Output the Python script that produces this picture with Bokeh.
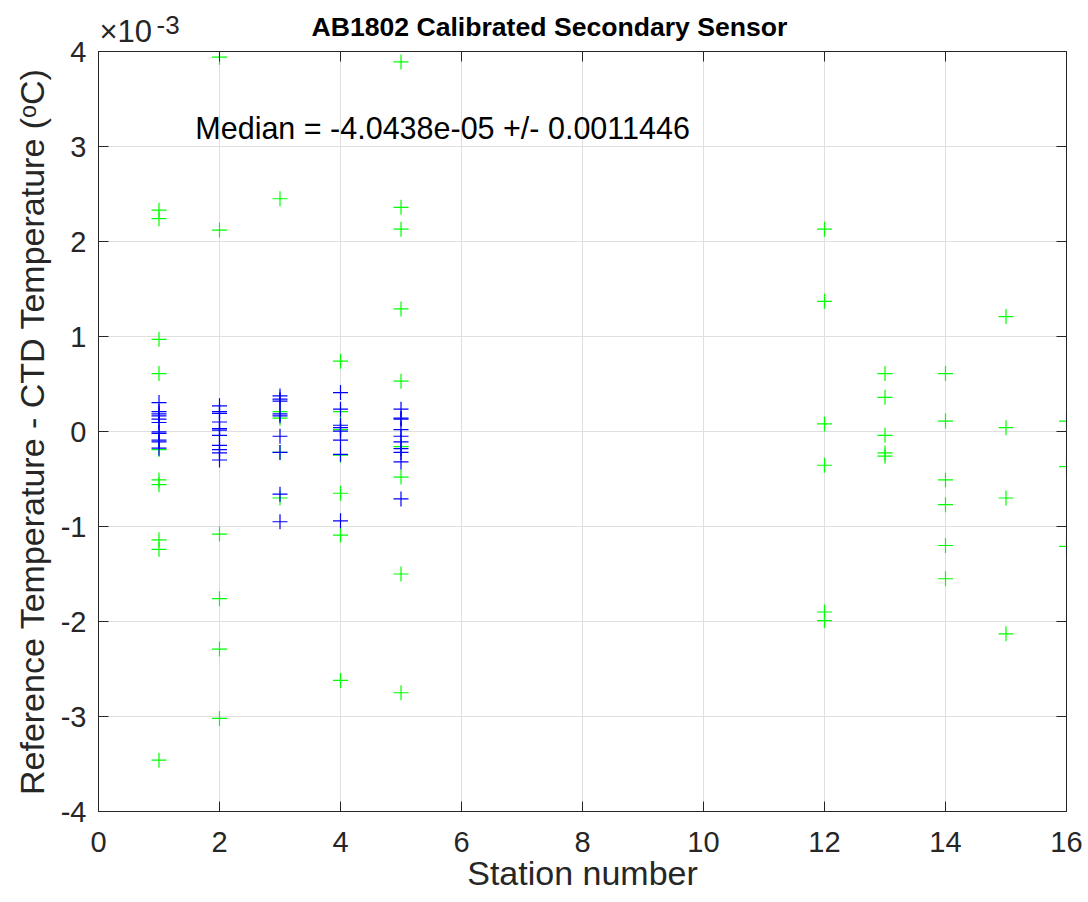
from bokeh.plotting import figure
from bokeh.models import Range1d, FixedTicker, LinearAxis, Label, Title, CustomJSTickFormatter
from bokeh.embed import file_html
from bokeh.resources import INLINE

# ---- data (temperature differences in units of 1e-3 degC) ----
green_stations = [1, 2, 3, 4, 5, 12, 13, 14, 15, 16]
green_values = [
    [2.33, 2.24, 0.97, 0.61, -0.19, -0.51, -0.56, -1.14, -1.24, -3.46],
    [3.94, 2.12, -1.08, -1.76, -2.29, -3.02],
    [2.45, 0.21, 0.14, -0.22, -0.70],
    [0.74, 0.21, 0.02, -0.25, -0.65, -1.09, -2.62],
    [3.89, 2.36, 2.13, 1.29, 0.53, -0.16, -0.48, -1.50, -2.75],
    [2.13, 1.37, 0.08, -0.355, -1.90, -1.99],
    [0.61, 0.36, -0.04, -0.225, -0.26],
    [0.61, 0.11, -0.51, -0.77, -1.20, -1.55],
    [1.21, 0.04, -0.70, -2.13],
    [0.11, -0.37, -1.21],
]
blue_stations = [1, 2, 3, 4, 5]
blue_values = [
    [0.305, 0.21, 0.185, 0.165, 0.13, 0.095, -0.004, -0.02, -0.09, -0.11, -0.175],
    [0.27, 0.21, 0.19, 0.10, 0.03, 0.015, -0.04, -0.145, -0.19, -0.225, -0.30],
    [0.375, 0.34, 0.32, 0.185, 0.165, -0.05, -0.22, -0.66, -0.95],
    [0.41, 0.235, 0.066, 0.04, 0.003, -0.09, -0.24, -0.94],
    [0.235, 0.14, 0.13, 0.02, -0.05, -0.11, -0.18, -0.22, -0.32, -0.71],
]
x_ticks = [0, 2, 4, 6, 8, 10, 12, 14, 16]
y_ticks = [-4, -3, -2, -1, 0, 1, 2, 3, 4]
y_tick_labels = ["-4", "-3", "-2", "-1", "0", "1", "2", "3", "4"]
title_text = "AB1802 Calibrated Secondary Sensor"
median_text = "Median = -4.0438e-05 +/- 0.0011446"
x_label = "Station number"
y_label = "Reference Temperature - CTD Temperature (ᵒC)"
exp_base = "×10"
exp_power = "-3"

gx = [s for s, vals in zip(green_stations, green_values) for _ in vals]
gy = [v for vals in green_values for v in vals]
bx = [s for s, vals in zip(blue_stations, blue_values) for _ in vals]
by = [v for vals in blue_values for v in vals]

FONT = "Liberation Sans"
AX = "#262626"

p = figure(width=1088, height=902, x_range=Range1d(0, 16), y_range=Range1d(-4, 4),
           output_backend="svg", toolbar_location=None,
           min_border_left=98, min_border_right=22, min_border_top=51, min_border_bottom=91)
p.background_fill_color = "white"
p.border_fill_color = "white"
p.outline_line_color = AX
p.outline_line_width = 1
xax = p.xaxis[0]
yax = p.yaxis[0]

blank = CustomJSTickFormatter(code="return ''")

# mirrored ticks on top (box on), closest to the frame
p.add_layout(LinearAxis(ticker=FixedTicker(ticks=x_ticks), formatter=blank,
                        axis_line_color=AX, major_tick_line_color=AX,
                        major_tick_in=10, major_tick_out=0, minor_tick_line_color=None,
                        major_label_standoff=0), "above")

# exponent label of the y axis, stacked just above the frame
p.add_layout(Title(text=exp_base, align="left", offset=1, standoff=5,
                   text_font=FONT, text_font_size="31px", text_font_style="normal",
                   text_color=AX), "above")
p.add_layout(Title(text=exp_power, align="left", offset=58, standoff=-48,
                   text_font=FONT, text_font_size="26px", text_font_style="normal",
                   text_color=AX), "above")

p.title.text = title_text
p.title.text_font = FONT
p.title.text_font_size = "26.6px"
p.title.text_font_style = "bold"
p.title.text_color = "black"
p.title.align = "left"
p.title.offset = 213
p.title.standoff = -64

xax.ticker = FixedTicker(ticks=x_ticks)
yax.ticker = FixedTicker(ticks=y_ticks)
yax.major_label_overrides = dict(zip(y_ticks, y_tick_labels))
yax.axis_label = y_label
for ax in (xax, yax):
    ax.axis_line_color = AX
    ax.major_tick_line_color = AX
    ax.major_tick_in = 10
    ax.major_tick_out = 0
    ax.minor_tick_line_color = None
    ax.major_label_text_font = FONT
    ax.major_label_text_font_size = "29px"
    ax.major_label_text_color = AX
    ax.axis_label_text_font = FONT
    ax.axis_label_text_font_size = "34px"
    ax.axis_label_text_font_style = "normal"
    ax.axis_label_text_color = AX
xax.major_label_standoff = 20
yax.major_label_standoff = 12
yax.axis_label_standoff = 7

# x-axis label as a title below the axis (finer vertical control)
p.add_layout(Title(text=x_label, align="center", vertical_align="top", standoff=-2,
                   text_font=FONT, text_font_size="34px", text_font_style="normal",
                   text_color=AX), "below")

for grid in (p.xgrid, p.ygrid):
    grid.grid_line_color = "#dfdfdf"
    grid.grid_line_width = 1

# mirrored ticks on the right (box on)
p.add_layout(LinearAxis(ticker=FixedTicker(ticks=y_ticks), formatter=blank,
                        axis_line_color=AX, major_tick_line_color=AX,
                        major_tick_in=10, major_tick_out=0, minor_tick_line_color=None,
                        major_label_standoff=0), "right")

p.scatter(gx, gy, marker="cross", size=15, line_color="#00ff00", line_width=1.2)
p.scatter(bx, by, marker="cross", size=15, line_color="#0000ff", line_width=1.2)

p.add_layout(Label(x=1.6, y=3.2, text=median_text, text_font=FONT, text_font_size="30.5px",
                   text_baseline="middle", text_color="black"))

open("out.html", "w").write(file_html(p, INLINE))
